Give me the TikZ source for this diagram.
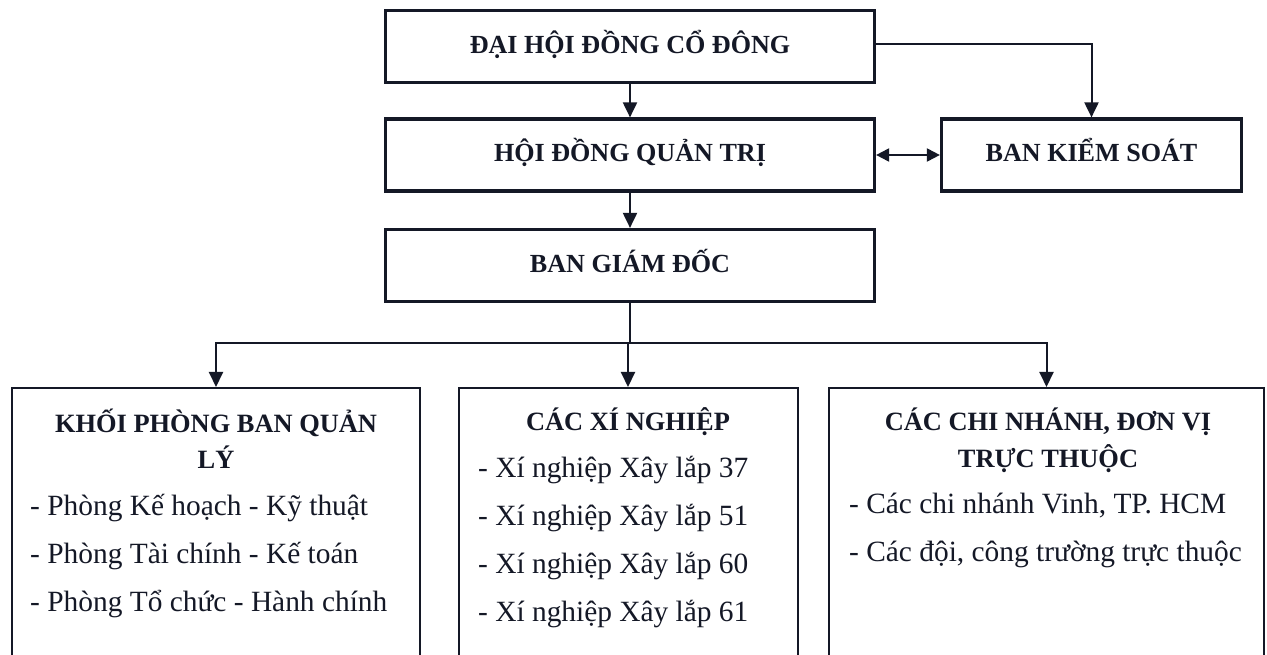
\documentclass[tikz,border=0pt]{standalone}
\usepackage{fontspec}
\setmainfont{Liberation Serif}
\usetikzlibrary{arrows.meta}
\definecolor{ink}{RGB}{20,24,38}
\begin{document}
\begin{tikzpicture}[x=1bp,y=-1bp,
 every node/.style={text=ink},
 topbox/.style={draw=ink,line width=3.2bp,minimum width=489bp,minimum height=72bp,inner sep=0pt,
   font=\fontsize{26.2}{30}\selectfont\bfseries,text height=19bp,text depth=5bp},
 botbox/.style={draw=ink,line width=2bp,inner sep=0pt},
 head/.style={font=\fontsize{26.5}{36.5}\selectfont\bfseries,anchor=base,inner sep=0pt},
 item/.style={font=\fontsize{29.5}{48}\selectfont,anchor=base west,inner sep=0pt},
 arr/.style={draw=ink,line width=2bp,-{Triangle[length=15bp,width=14bp]}},
 arrb/.style={draw=ink,line width=2bp,{Triangle[length=13bp,width=13bp]}-{Triangle[length=13bp,width=13bp]}},
 conn/.style={draw=ink,line width=2bp}
]
\useasboundingbox (0,0) rectangle (1267,655);
\fill[white] (0,0) rectangle (1267,655);
\clip (0,0) rectangle (1267,655);

% top boxes
\node[topbox] (dh) at (630,46.5) {ĐẠI HỘI ĐỒNG CỔ ĐÔNG};
\node[topbox] (hd) at (630,155) {HỘI ĐỒNG QUẢN TRỊ};
\node[topbox] (bgd) at (630,265.5) {BAN GIÁM ĐỐC};
\node[topbox,minimum width=300bp] (bks) at (1091.5,155) {BAN KIỂM SOÁT};

% bottom boxes
\node[botbox,minimum width=407bp,minimum height=290bp] (kp) at (216,533) {};
\node[botbox,minimum width=339bp,minimum height=290bp] (xn) at (628,533) {};
\node[botbox,minimum width=435bp,minimum height=290bp] (cn) at (1046.5,533) {};

% left box texts
\node[head] (kph1) at (216,432) {KHỐI PHÒNG BAN QUẢN};
\node[head] (kph2) at (216,468) {LÝ};
\node[item] (kpi1) at (30,515) {- Phòng Kế hoạch - Kỹ thuật};
\node[item] (kpi2) at (30,563) {- Phòng Tài chính - Kế toán};
\node[item] (kpi3) at (30,611) {- Phòng Tổ chức - Hành chính};

% middle box texts
\node[head] (xnh) at (628,430) {CÁC XÍ NGHIỆP};
\node[item] (xni1) at (478,477) {- Xí nghiệp Xây lắp 37};
\node[item] (xni2) at (478,525) {- Xí nghiệp Xây lắp 51};
\node[item] (xni3) at (478,573) {- Xí nghiệp Xây lắp 60};
\node[item] (xni4) at (478,621) {- Xí nghiệp Xây lắp 61};

% right box texts
\node[head] (cnh1) at (1048,430) {CÁC CHI NHÁNH, ĐƠN VỊ};
\node[head] (cnh2) at (1048,467) {TRỰC THUỘC};
\node[item] (cni1) at (849,513) {- Các chi nhánh Vinh, TP. HCM};
\node[item] (cni2) at (849,561) {- Các đội, công trường trực thuộc};

% connectors
\draw[arr] (dh.south) -- (hd.north);
\draw[arr] (hd.south) -- (bgd.north);
\draw[arr] (dh.east |- 0,44) -| (bks.north);
\draw[arrb] (hd.east) -- (bks.west);
\coordinate (split) at (630,343);
\draw[conn] (bgd.south) -- (split);
\draw[arr] (split) -| (kp.north);
\draw[arr] (split) -| (xn.north);
\draw[arr] (split) -| (cn.north);
\end{tikzpicture}
\end{document}
